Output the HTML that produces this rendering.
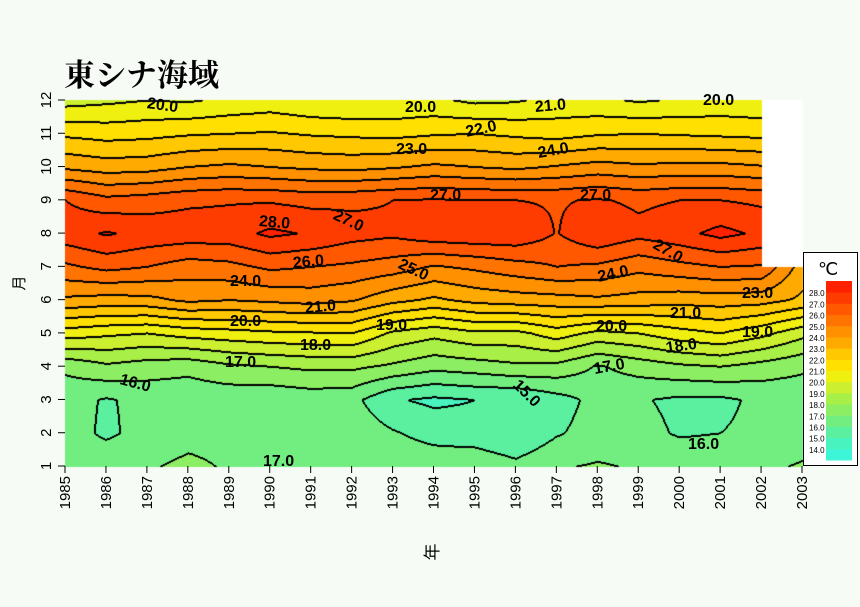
<!DOCTYPE html>
<html><head><meta charset="utf-8">
<style>
body{margin:0;background:#f6fbf6;width:860px;height:607px;overflow:hidden;font-family:"Liberation Sans","Noto Sans CJK JP",sans-serif;}
#wrap{position:relative;width:860px;height:607px;}
.lbl{position:absolute;font-weight:bold;font-size:16px;color:#000;white-space:nowrap;line-height:16px;}
</style></head>
<body>
<div id="wrap">
<div style="position:absolute;left:64px;top:50px;font-size:31px;font-weight:bold;font-family:'Liberation Serif','Noto Serif CJK SC',serif;">東シナ海域</div>
<canvas id="cv" width="860" height="607" style="position:absolute;left:0;top:0"></canvas>
<svg id="ax" width="860" height="607" style="position:absolute;left:0;top:0"></svg>
</div>
<script>
const years=[1985,1986,1987,1988,1989,1990,1991,1992,1993,1994,1995,1996,1997,1998,1999,2000,2001,2002,2003];
const months=[1,2,3,4,5,6,7,8,9,10,11,12];
const m1=[16.4,16.8,16.9,17.2,16.9,16.9,16.9,16.9,16.8,16.7,16.8,16.3,16.9,17.1,16.9,16.7,16.6,16.8,17.1];
const m2=[16.5,15.8,16.4,16.7,16.7,16.5,16.6,16.7,16.1,15.6,15.4,15.0,15.9,16.4,16.3,15.9,16.0,16.2,16.5];
const m3=[16.4,15.9,16.3,16.3,16.3,16.2,16.4,16.3,15.1,14.8,15.0,15.0,15.6,16.3,16.1,15.8,15.8,16.2,16.3];
const m4=[17.2,17.8,17.5,17.3,17.8,18.0,18.2,18.2,17.8,17.3,17.5,17.8,17.7,16.9,17.4,17.8,18.0,17.6,17.2];
const m5=[20.5,20.2,20.0,20.4,20.6,20.8,20.9,21.0,19.8,19.3,19.8,19.7,20.5,19.7,20.0,20.6,21.0,20.3,19.3];
const m6=[23.8,23.6,23.7,24.2,24.0,24.2,24.4,24.1,23.3,22.8,23.3,23.5,23.6,23.8,23.6,23.4,23.5,23.4,22.8];
const m7=[25.8,26.3,26.0,25.5,25.7,26.2,26.0,25.8,25.5,24.9,25.2,25.6,26.0,25.8,25.3,25.7,26.0,25.9,23.5];
const m8=[27.6,28.1,27.7,27.6,27.6,28.2,27.9,27.4,27.2,27.7,27.8,27.8,26.95,27.9,27.3,27.7,28.3,27.8,null];
const m9=[27.0,26.3,26.5,26.8,26.9,26.9,26.7,26.8,27.0,27.1,27.0,27.0,26.9,27.1,26.8,27.0,27.0,26.8,null];
const m10=[23.8,23.5,23.6,24.0,24.2,24.0,23.8,23.7,23.9,24.2,24.0,23.8,24.1,24.4,24.2,24.3,24.3,24.1,null];
const m11=[21.8,21.6,21.7,21.9,22.0,22.1,21.9,21.8,21.7,21.9,22.0,21.8,21.6,21.9,22.0,21.9,21.8,21.7,null];
const m12=[19.6,19.8,20.0,19.9,20.2,20.4,20.1,20.0,20.1,20.2,19.8,19.9,20.3,20.2,19.9,20.1,20.3,20.2,null];
const legendLevels=[14,15,16,17,18,19,20,21,22,23,24,25,26,27,28];
const grid=[m1,m2,m3,m4,m5,m6,m7,m8,m9,m10,m11,m12];
const bandColors=["#3ff5d8","#48f3c0","#5af0a0","#72ee80","#8cee62","#a8ef48","#ccf030","#f0f010","#ffe000","#ffc800","#ffaa00","#ff9000","#ff7400","#ff5800","#ff3c00","#ff2200"];
const X0=65,X1=802,Y0=466,Y1=100;
const xs=y=>X0+(y-years[0])/(years[years.length-1]-years[0])*(X1-X0);
const ys=m=>Y0-(m-1)/11*(Y0-Y1);
function val(px,py){
 const fx=(px-X0)/(X1-X0)*(years.length-1), fy=(Y0-py)/(Y0-Y1)*(months.length-1);
 let i=Math.max(0,Math.min(Math.floor(fx),years.length-2)), j=Math.max(0,Math.min(Math.floor(fy),months.length-2));
 const tx=fx-i, ty=fy-j;
 const a=grid[j][i],b=grid[j][i+1],c=grid[j+1][i],d=grid[j+1][i+1];
 if(a==null||b==null||c==null||d==null) return null;
 return a*(1-tx)*(1-ty)+b*tx*(1-ty)+c*(1-tx)*ty+d*tx*ty;
}
function band(v){return Math.max(0,Math.min(15,v-13));}
const cv=document.getElementById('cv'),ctx=cv.getContext('2d');
const W=X1-X0+1,H=Y0-Y1+1;
const img=ctx.createImageData(W,H);
const B=[];
for(let y=0;y<H;y++){B.push([]);for(let x=0;x<W;x++){const v=val(X0+x,Y1+y);B[y].push(v==null?-1:Math.floor(v));}}
function hex(c){return [parseInt(c.substr(1,2),16),parseInt(c.substr(3,2),16),parseInt(c.substr(5,2),16)];}
const cols=bandColors.map(hex);
function diff(b,x,y){return x>=0&&y>=0&&x<W&&y<H&&B[y][x]>=0&&B[y][x]!=b;}
for(let y=0;y<H;y++)for(let x=0;x<W;x++){
 const k=(y*W+x)*4;let b=B[y][x];let c;
 if(b<0)c=[255,255,255];else{
  const e=diff(b,x+1,y)||diff(b,x-1,y)||diff(b,x,y+1)||diff(b,x,y-1);
  c=e?[0,0,0]:cols[band(b)];
 }
 img.data[k]=c[0];img.data[k+1]=c[1];img.data[k+2]=c[2];img.data[k+3]=255;
}
ctx.putImageData(img,X0,Y1);
const svg=document.getElementById('ax');const NS="http://www.w3.org/2000/svg";
function el(t,a){const e=document.createElementNS(NS,t);for(const k in a)e.setAttribute(k,a[k]);svg.appendChild(e);return e;}
months.forEach(m=>{
 const t=el('line',{x1:X0-7,x2:X0,y1:ys(m),y2:ys(m),stroke:'#000'});
 
 
 const tx=el('text',{x:0,y:0,transform:`translate(51,${ys(m)}) rotate(-90)`,'text-anchor':'middle','font-size':'15','font-family':'Liberation Sans'});
 tx.textContent=m;
 
 
});
years.forEach(y=>{
 const t=el('line',{x1:xs(y),x2:xs(y),y1:Y0,y2:Y0+7,stroke:'#000'});
 
 
 const tx=el('text',{x:0,y:0,transform:`translate(${xs(y)+5},${Y0+10}) rotate(-90)`,'text-anchor':'end','font-size':'15','font-family':'Liberation Sans'});
 tx.textContent=y;
 
 
});
const yt=el('text',{x:0,y:0,transform:'translate(24,283) rotate(-90)','text-anchor':'middle','font-size':'15','font-family':'Liberation Sans, Noto Sans CJK JP, sans-serif'});yt.textContent='月';


const xt=el('text',{x:0,y:0,transform:'translate(438,552) rotate(-90)','text-anchor':'middle','font-size':'17','font-family':'Liberation Sans, Noto Sans CJK JP, sans-serif'});xt.textContent='年';


const lg=el('rect',{x:803.5,y:252.5,width:54,height:213,fill:'#fff',stroke:'#000'});


const lt=el('text',{x:818,y:275,'font-size':'18','font-family':'Liberation Serif, serif'});lt.textContent='℃';


const legTop=281,legBot=460,nb=bandColors.length,bh=(legBot-legTop)/nb;
bandColors.forEach((c,i)=>{const r=el('rect',{x:826,y:legBot-(i+1)*bh,width:26,height:bh+0.5,fill:c});
 
 });
legendLevels.forEach((l,i)=>{const t=el('text',{x:809,y:legBot-(i+1)*bh+4,'font-size':'8','font-family':'Liberation Sans'});t.textContent=l.toFixed(1);
 
 });
const labels=[["20.0",147,96,8],["20.0",405,100,0],["21.0",535,100,-5],["20.0",703,93,0],["22.0",466,125,-12],["23.0",396,142,0],["24.0",538,146,-10],["27.0",430,188,0],["27.0",580,188,0],["28.0",259,214,5],["27.0",334,207,25],["27.0",654,236,30],["26.0",293,256,-5],["25.0",399,256,25],["24.0",230,274,0],["24.0",598,270,-12],["23.0",742,286,0],["21.0",305,301,-5],["20.0",230,314,0],["19.0",376,318,0],["21.0",670,306,0],["20.0",596,319,0],["19.0",742,325,0],["18.0",300,338,0],["18.0",666,341,-8],["17.0",225,355,0],["17.0",594,362,-10],["16.0",120,372,15],["15.0",515,375,45],["16.0",688,437,0],["17.0",263,454,0]];
labels.forEach(([t,x,y,r])=>{const d=document.createElement('div');d.className='lbl';d.textContent=t;d.style.left=x+'px';d.style.top=y+'px';d.style.transform=`rotate(${r}deg)`;d.style.transformOrigin='left center';
 
 
 document.getElementById('wrap').appendChild(d);});
</script>
</body></html>
